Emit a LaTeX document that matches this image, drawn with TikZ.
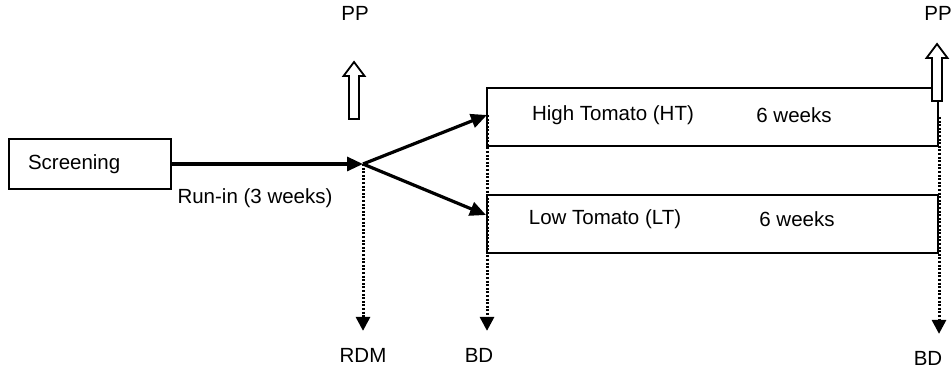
\documentclass[tikz,border=0pt]{standalone}
\usepackage{fontspec}
\setmainfont{Liberation Sans}
\usetikzlibrary{arrows.meta,positioning}

% open block arrow, x of its axis and y of its foot
\newcommand{\pparrow}[2]{%
  \draw[line width=0.9pt, fill=white] ({#1-5},#2) -- ({#1-5},{#2-43}) -- ({#1-10.5},{#2-43})
    -- (#1,{#2-57}) -- ({#1+10.5},{#2-43}) -- ({#1+5},{#2-43}) -- ({#1+5},#2) -- cycle;}

\begin{document}
\begin{tikzpicture}[x=0.5pt, y=-0.5pt,
        every node/.style={font=\fontsize{10.25}{12}\selectfont},
        block/.style={rectangle, draw, line width=1pt},
        arrow/.style={-{Triangle[length=8pt,width=7pt]}, line width=1.6pt},
        dotarrow/.style={-{Triangle[length=7pt,width=7pt]}, line width=1.5pt, dash pattern=on 1pt off 0.8pt, shorten >=5pt}
    ]
        \useasboundingbox (0,0) rectangle (952,368);

        % Screening and the two arms
        \node[block, text width=62pt, inner xsep=9.5pt, minimum height=25pt, align=left] (screen) at (90,164) {Screening};
        \node[block, minimum width=225.5pt, minimum height=29pt] (ht) at (712.5,117) {};
        \node[block, minimum width=225.5pt, minimum height=29pt] (lt) at (712.5,224) {};

        % Texts
        \node (httext) at (613,115) {High Tomato (HT)};
        \node (htweeks) at (794,115) {6 weeks};
        \node (lttext) at (605,219) {Low Tomato (LT)};
        \node (ltweeks) at (797,219) {6 weeks};
        \node (runin) at (255,198) {Run-in (3 weeks)};
        \node (pp1) at (355,13) {PP};
        \node (pp2) at (938,13) {PP};
        \node (rdm) at (363,355) {RDM};
        \node (bd1) at (479,355) {BD};
        \node (bd2) at (928,358) {BD};

        \coordinate (split) at (363,164);
        \coordinate (htin) at (487,115);
        \coordinate (ltin) at (486,215);

        % Arrows
        \draw[arrow] (screen.east) -- (split);
        \draw[arrow] (split) -- (htin);
        \draw[arrow] (split) -- (ltin);

        % Measurements
        \draw[dotarrow] (split) -- (split |- rdm.north);
        \draw[dotarrow] (htin) -- (htin |- bd1.north);
        \draw[dotarrow] (ht.east) -- (ht.east |- bd2.north);

        % Post-prandial
        \pparrow{354}{119}
        \pparrow{937}{101}

    \end{tikzpicture}
\end{document}
